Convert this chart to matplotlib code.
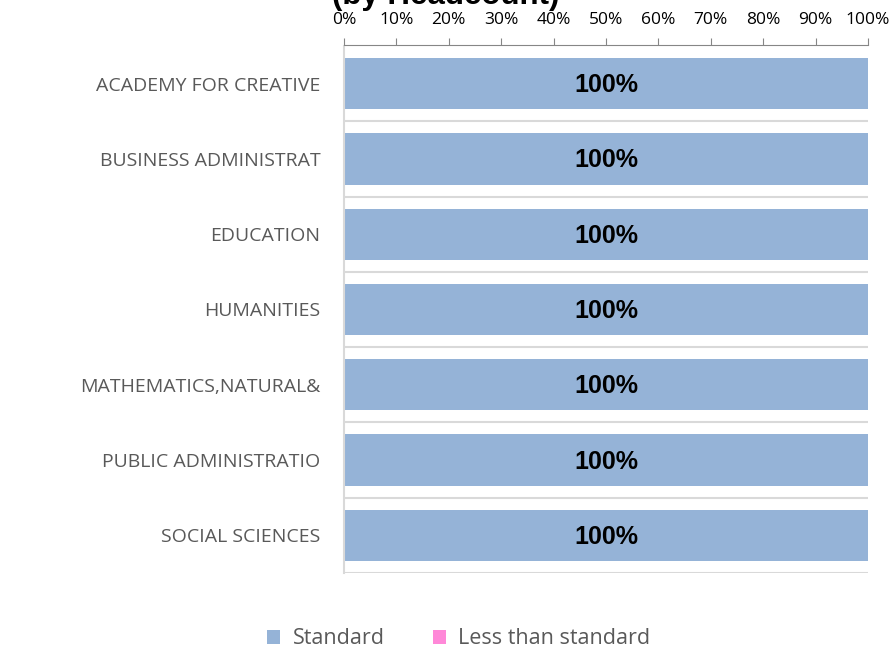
import matplotlib.pyplot as plt
import numpy as np

categories = ["ACADEMY FOR CREATIVE", "BUSINESS ADMINISTRAT", "EDUCATION", "HUMANITIES",
              "MATHEMATICS,NATURAL&", "PUBLIC ADMINISTRATIO", "SOCIAL SCIENCES"]
standard = [100, 100, 100, 100, 100, 100, 100]
less_than_standard = [0, 0, 0, 0, 0, 0, 0]
x_ticks = [0, 10, 20, 30, 40, 50, 60, 70, 80, 90, 100]

fig = plt.figure(figsize=(8.94, 6.51), dpi=100)
ax = fig.add_axes([344 / 894, 1 - 573 / 651, (868 - 344) / 894, (573 - 46) / 651])

y = np.arange(len(categories))
ax.barh(y, standard, height=0.68, color="#95B3D7", label="Standard")
ax.barh(y, less_than_standard, left=standard, height=0.68, color="#FF88D8", label="Less than standard")

for yi, v in zip(y, standard):
    ax.text(v / 2, yi + 0.02, f"{v}%", ha="center", va="center", fontsize=18,
            fontweight="bold", family="Liberation Sans", color="black")

ax.set_xlim(0, 100)
ax.set_ylim(len(categories) - 0.5, -0.5)
ax.set_yticks(y)
ax.set_yticklabels(categories)
ax.tick_params(axis="y", length=0, pad=17, labelsize=14, labelcolor="#595959",
               labelfontfamily="Open Sans")
ax.set_yticks(np.arange(len(categories)) + 0.5, minor=True)
ax.tick_params(axis="y", which="minor", length=0)
ax.grid(axis="y", which="minor", color="#D9D9D9", linewidth=1.5)
ax.set_axisbelow(True)

ax.xaxis.tick_top()
ax.set_xticks(x_ticks)
ax.set_xticklabels([f"{t}%" for t in x_ticks])
ax.tick_params(axis="x", length=5, color="#868686", pad=7, labelsize=12.5,
               labelcolor="black", labelfontfamily="Open Sans")

for s in ["right", "bottom"]:
    ax.spines[s].set_visible(False)
ax.spines["top"].set_color("#868686")
ax.spines["top"].set_position(("outward", 1))
ax.spines["left"].set_color("#D9D9D9")
ax.spines["left"].set_linewidth(1.5)

fig.text(446 / 894, 1 - 4 / 651, "(by Headcount)", ha="center", va="baseline",
         fontsize=22.5, fontweight="bold", family="Liberation Sans")

leg = fig.legend(loc="center", bbox_to_anchor=(459 / 894, 1 - 639 / 651), ncol=2, frameon=False,
                 prop={"family": "Open Sans", "size": 15.5}, handlelength=0.6, handleheight=0.6,
                 columnspacing=2.2, handletextpad=0.6)
for t in leg.get_texts():
    t.set_color("#595959")

fig.savefig("out.png", dpi=100)
